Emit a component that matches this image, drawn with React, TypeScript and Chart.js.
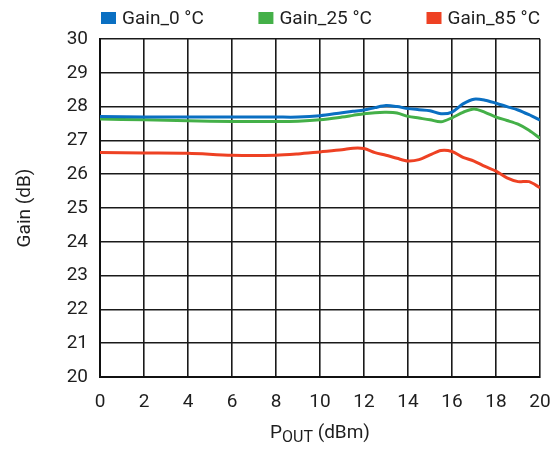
import { useEffect, useRef } from "react";
import { Chart, registerables } from "chart.js";

Chart.register(...registerables);

const xValues = [0, 2, 4, 6, 8, 9, 10, 11, 11.5, 12, 12.5, 13, 13.5, 14, 14.5, 15, 15.5, 16, 16.5, 17, 17.5, 18, 18.5, 19, 19.5, 20];
const gain0 = [27.71, 27.69, 27.69, 27.69, 27.69, 27.69, 27.73, 27.82, 27.86, 27.9, 27.97, 28.03, 28.0, 27.94, 27.91, 27.88, 27.79, 27.84, 28.08, 28.22, 28.19, 28.1, 28.0, 27.9, 27.76, 27.6];
const gain25 = [27.63, 27.61, 27.58, 27.56, 27.56, 27.57, 27.61, 27.69, 27.74, 27.79, 27.82, 27.83, 27.81, 27.71, 27.66, 27.61, 27.55, 27.67, 27.83, 27.93, 27.83, 27.69, 27.59, 27.48, 27.3, 27.06];
const gain85 = [26.64, 26.63, 26.62, 26.56, 26.56, 26.6, 26.66, 26.72, 26.77, 26.76, 26.64, 26.56, 26.47, 26.39, 26.43, 26.57, 26.7, 26.67, 26.5, 26.39, 26.23, 26.09, 25.89, 25.78, 25.78, 25.6];

const seriesLabels = ["Gain_0 °C", "Gain_25 °C", "Gain_85 °C"];
const seriesColors = ["#0a6fc2", "#44b048", "#ee4123"];
const yTitle = "Gain (dB)";

const FONT = "Roboto, sans-serif";
const FS = 19;
const TEXT = "#1e1e1e";

const overlay = {
  id: "overlay",
  afterDraw(chart: any) {
    const ctx = chart.ctx as CanvasRenderingContext2D;
    const area = chart.chartArea;
    ctx.save();
    // legend
    ctx.font = `${FS}px ${FONT}`;
    ctx.textBaseline = "middle";
    ctx.textAlign = "left";
    const box = 15;
    const gapText = 6;
    const widths = seriesLabels.map((l) => box + gapText + ctx.measureText(l).width);
    const startX = area.left + 1;
    const sum = widths.reduce((a, b) => a + b, 0);
    const gapItem = (area.right - startX - sum) / (widths.length - 1);
    let x = startX;
    const ly = 18;
    seriesLabels.forEach((l, i) => {
      ctx.fillStyle = seriesColors[i];
      ctx.fillRect(x, ly - 6, box, 12);
      ctx.fillStyle = TEXT;
      ctx.fillText(l, x + box + gapText, ly + 1);
      x += widths[i] + gapItem;
    });
    // y title
    ctx.save();
    ctx.translate(25, (area.top + area.bottom) / 2);
    ctx.rotate(-Math.PI / 2);
    ctx.textAlign = "center";
    ctx.textBaseline = "middle";
    ctx.font = `${FS}px ${FONT}`;
    ctx.fillStyle = TEXT;
    ctx.fillText(yTitle, 0, 0);
    ctx.restore();
    // x title P_OUT (dBm)
    ctx.textBaseline = "alphabetic";
    ctx.textAlign = "left";
    ctx.fillStyle = TEXT;
    const big = `${FS}px ${FONT}`;
    const small = `16px ${FONT}`;
    ctx.font = big;
    const wP = ctx.measureText("P").width;
    const wRest = ctx.measureText(" (dBm)").width;
    ctx.font = small;
    const wSub = ctx.measureText("OUT").width;
    const tw = wP + wSub + wRest;
    let tx = (area.left + area.right) / 2 - tw / 2;
    const base = 438;
    ctx.font = big;
    ctx.fillText("P", tx, base);
    tx += wP;
    ctx.font = small;
    ctx.fillText("OUT", tx, base + 4);
    tx += wSub;
    ctx.font = big;
    ctx.fillText(" (dBm)", tx, base);
    ctx.restore();
  },
};

export default function App() {
  const ref = useRef<HTMLCanvasElement | null>(null);
  useEffect(() => {
    if (!ref.current) return;
    const mk = (vals: number[]) => xValues.map((x, i) => ({ x, y: vals[i] }));
    const chart = new Chart(ref.current, {
      type: "line",
      data: {
        datasets: [gain0, gain25, gain85].map((vals, i) => ({
          label: seriesLabels[i],
          data: mk(vals),
          borderColor: seriesColors[i],
          backgroundColor: seriesColors[i],
          borderWidth: 3,
          pointRadius: 0,
          tension: 0.3,
          fill: false,
        })),
      },
      options: {
        animation: false,
        responsive: false,
        layout: { padding: { top: 39, right: 18, left: 0, bottom: 0 } },
        plugins: { legend: { display: false }, tooltip: { enabled: false } },
        scales: {
          x: {
            type: "linear",
            min: 0,
            max: 20,
            ticks: { stepSize: 2, color: TEXT, font: { family: FONT, size: FS }, padding: 14 },
            grid: { color: "#1a1a1a", lineWidth: 1.6, drawTicks: false },
            border: { color: "#111", width: 2 },
            afterFit: (s: any) => {
              s.height = 78;
              s.paddingLeft = 0;
              s.paddingRight = 0;
            },
          },
          y: {
            min: 20,
            max: 30,
            ticks: { stepSize: 1, color: TEXT, font: { family: FONT, size: FS }, padding: 12 },
            grid: { color: "#1a1a1a", lineWidth: 1.6, drawTicks: false },
            border: { color: "#111", width: 2 },
            afterFit: (s: any) => {
              s.width = 100;
              s.paddingTop = 0;
              s.paddingBottom = 0;
            },
          },
        },
      },
      plugins: [overlay],
    });
    return () => chart.destroy();
  }, []);
  return (
    <div style={{ position: "fixed", left: 0, top: 0, width: 558, height: 455, background: "#fff" }}>
      <canvas ref={ref} width={558} height={455} style={{ width: 558, height: 455 }} />
    </div>
  );
}
